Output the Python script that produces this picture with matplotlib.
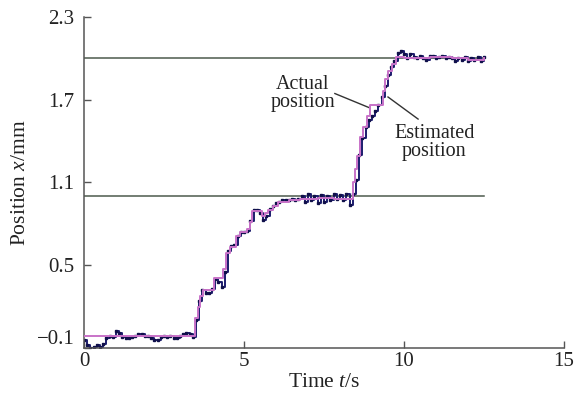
import numpy as np
import matplotlib
matplotlib.use("Agg")
import matplotlib.pyplot as plt
from matplotlib import transforms

plt.rcParams['font.family'] = ['Liberation Serif', 'DejaVu Serif']
plt.rcParams['mathtext.fontset'] = 'custom'
plt.rcParams['mathtext.rm'] = 'Liberation Serif'
plt.rcParams['mathtext.it'] = 'Liberation Serif:italic'

# ---- data ----
actual_t = np.round(np.arange(0, 12.51, 0.1), 1)
actual_x = [-0.04, -0.08, -0.10, -0.09, -0.08, -0.09, -0.07, -0.03, -0.01, -0.02,
            0.02, 0.01, -0.02, -0.03, -0.03, -0.02, -0.01, 0.00, 0.00, -0.01,
            -0.01, -0.03, -0.04, -0.04, -0.02, -0.01, -0.02, -0.01, -0.03, -0.03,
            -0.01, 0.00, 0.01, 0.00, -0.02, 0.10, 0.24, 0.32, 0.30, 0.30,
            0.33, 0.40, 0.38, 0.34, 0.45, 0.60, 0.64, 0.65, 0.71, 0.74,
            0.74, 0.75, 0.82, 0.90, 0.90, 0.88, 0.83, 0.86, 0.91, 0.93,
            0.95, 0.96, 0.97, 0.97, 0.97, 0.98, 0.97, 0.98, 1.00, 0.96,
            1.02, 0.97, 1.00, 0.95, 1.01, 0.96, 1.00, 0.97, 1.02, 0.98,
            1.01, 0.97, 1.02, 0.94, 1.02, 1.12, 1.30, 1.42, 1.50, 1.55,
            1.58, 1.62, 1.66, 1.72, 1.80, 1.88, 1.94, 1.98, 2.04, 2.05,
            2.03, 2.00, 2.03, 2.01, 2.00, 2.02, 2.00, 1.99, 2.02, 2.02,
            2.00, 2.01, 2.02, 2.00, 2.01, 2.00, 1.98, 2.00, 1.99, 2.01,
            1.98, 2.00, 1.99, 2.01, 1.98, 2.01]

est_t = [0, 3.47, 3.55, 3.62, 3.72, 4.05, 4.35, 4.45, 4.55, 4.75, 4.87, 5.1, 5.18,
         5.25, 5.55, 5.65, 5.75, 5.9, 6.05, 6.4, 6.75, 7.3, 7.8, 8.4, 8.47, 8.52,
         8.62, 8.72, 8.84, 8.94, 9.33, 9.4, 9.5, 9.62, 9.75, 10.0, 10.8, 11.5,
         12.0, 12.5]
est_x = [-0.01, 0.12, 0.20, 0.28, 0.32, 0.41, 0.47, 0.59, 0.63, 0.71, 0.74, 0.76,
         0.81, 0.89, 0.86, 0.88, 0.90, 0.93, 0.96, 0.97, 0.98, 0.99, 0.98, 1.10,
         1.20, 1.29, 1.43, 1.50, 1.58, 1.66, 1.76, 1.85, 1.91, 1.96, 2.01, 2.00,
         2.01, 2.00, 1.99, 2.00]

ref_levels = [1.0, 2.0]
ref_end = 12.5

xticks = [0, 5, 10, 15]
yticks = [-0.1, 0.5, 1.1, 1.7, 2.3]
ytick_labels = ['\u22120.1', '0.5', '1.1', '1.7', '2.3']

# ---- figure ----
fig = plt.figure(figsize=(5.74, 4.01), dpi=100)
ax = fig.add_axes([0.1463, 0.1322, 0.8363, 0.8254])

for lv in ref_levels:
    ax.plot([0, ref_end], [lv, lv], color='#4d5a4d', lw=1.1, zorder=1)

ax.plot(actual_t, actual_x, drawstyle='steps-post', color='#1c1c6e', lw=1.4,
        zorder=2)
ax.plot(actual_t, actual_x, ls='none', marker='s', ms=1.8, color='#10104a',
        zorder=2)
ax.plot(est_t, est_x, drawstyle='steps-post', color='#c872c8', lw=1.4, zorder=3)

ax.set_xlim(0, 15)
ax.set_ylim(-0.1, 2.3)
ax.set_xticks(xticks)
ax.set_yticks(yticks)
ax.set_yticklabels(ytick_labels)
ax.tick_params(direction='in', length=5, width=1, labelsize=15, color='#555555',
               labelcolor='#222222')
ax.tick_params(axis='y', pad=7)
ax.tick_params(axis='x', pad=3)
for s in ['top', 'right']:
    ax.spines[s].set_visible(False)
for s in ['left', 'bottom']:
    ax.spines[s].set_color('#555555')
    ax.spines[s].set_linewidth(1.1)

# shift the -0.1 label up a bit
lab = ax.get_yticklabels()[0]
lab.set_transform(lab.get_transform() + transforms.ScaledTranslation(0, 8/72, fig.dpi_scale_trans))

ax.set_xlabel('Time $t$/s', fontsize=15.5, color='#222222', labelpad=1)
ax.set_ylabel('Position $x$/mm', fontsize=15.5, color='#222222', labelpad=5)

ax.text(6.84, 1.745, 'Actual\nposition', ha='center', va='center', fontsize=14.5,
        color='#222222', linespacing=0.9)
ax.plot([7.84, 8.94], [1.745, 1.64], color='#333333', lw=1.0)
ax.text(10.95, 1.39, 'Estimated\nposition', ha='center', va='center', fontsize=14.5,
        color='#222222', linespacing=0.9)
ax.plot([9.5, 10.44], [1.72, 1.56], color='#333333', lw=1.0)

fig.savefig('out.png', dpi=100)
